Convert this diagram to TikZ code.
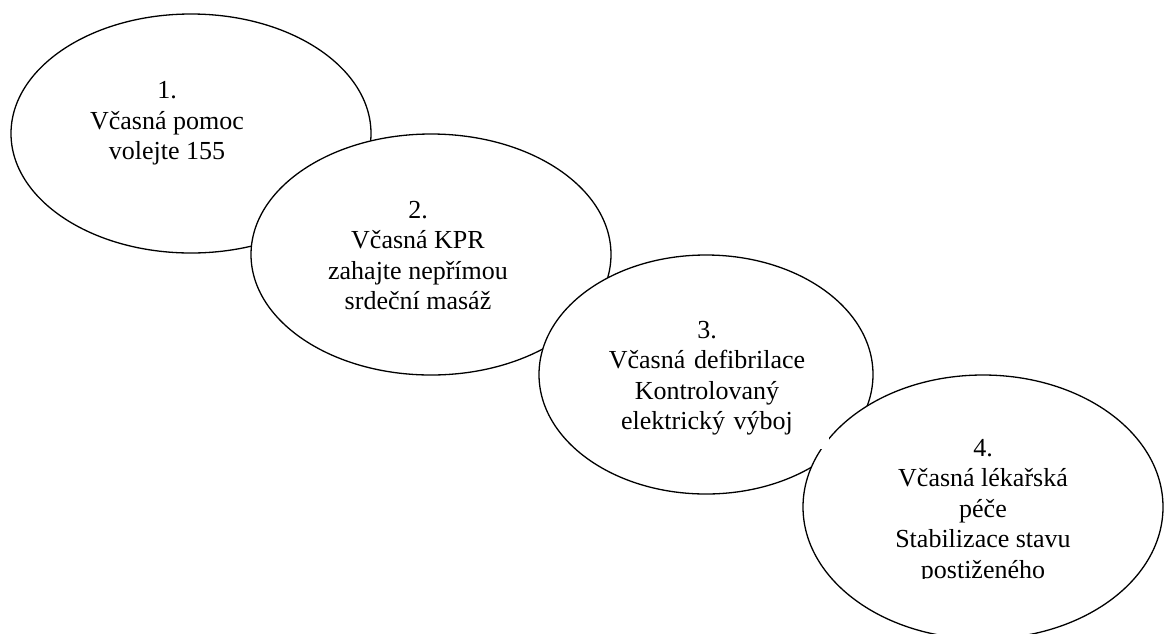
\documentclass[tikz,border=0pt]{standalone}
\usepackage{fontspec}
\setmainfont{Liberation Serif}
\usetikzlibrary{shapes.geometric}
\tikzset{
  oval/.style={ellipse, draw=black, line width=1.3pt, fill=white, inner sep=0pt, outer sep=0pt},
  label/.style={anchor=north, inner sep=0pt, align=center, text=black,
    font=\fontsize{26}{30.5}\selectfont}
}
\begin{document}
\begin{tikzpicture}[x=1pt, y=-1pt]
\useasboundingbox[fill=white] (0,0) rectangle (1164,633);
\node[oval, minimum width=360pt, minimum height=239pt] (e1) at (191,133.5) {};
\node[label] (t1) at (167,77) {\strut 1.\\Včasná pomoc\\volejte 155};
\node[oval, minimum width=360pt, minimum height=241pt] (e2) at (431,254.5) {};
\node[label] (t2) at (418,196.5) {\strut 2.\\Včasná KPR\\zahajte nepřímou\\srdeční masáž};
\node[oval, minimum width=334pt, minimum height=239pt] (e3) at (706,374.5) {};
\node[oval, minimum width=360pt, minimum height=264pt] (e4) at (983,507) {};
\node[label, fill=white, text width=244pt, text depth=110.5pt] (t3) at (707,316.5) {\strut 3.\\Včasná defibrilace\\Kontrolovaný\\elektrický výboj};
\begin{scope}
\clip (800,430) rectangle (1164,578);
\node[label] (t4) at (983,434.5) {\strut 4.\\Včasná lékařská\\péče\\Stabilizace stavu\\postiženého};
\end{scope}
\end{tikzpicture}
\end{document}
